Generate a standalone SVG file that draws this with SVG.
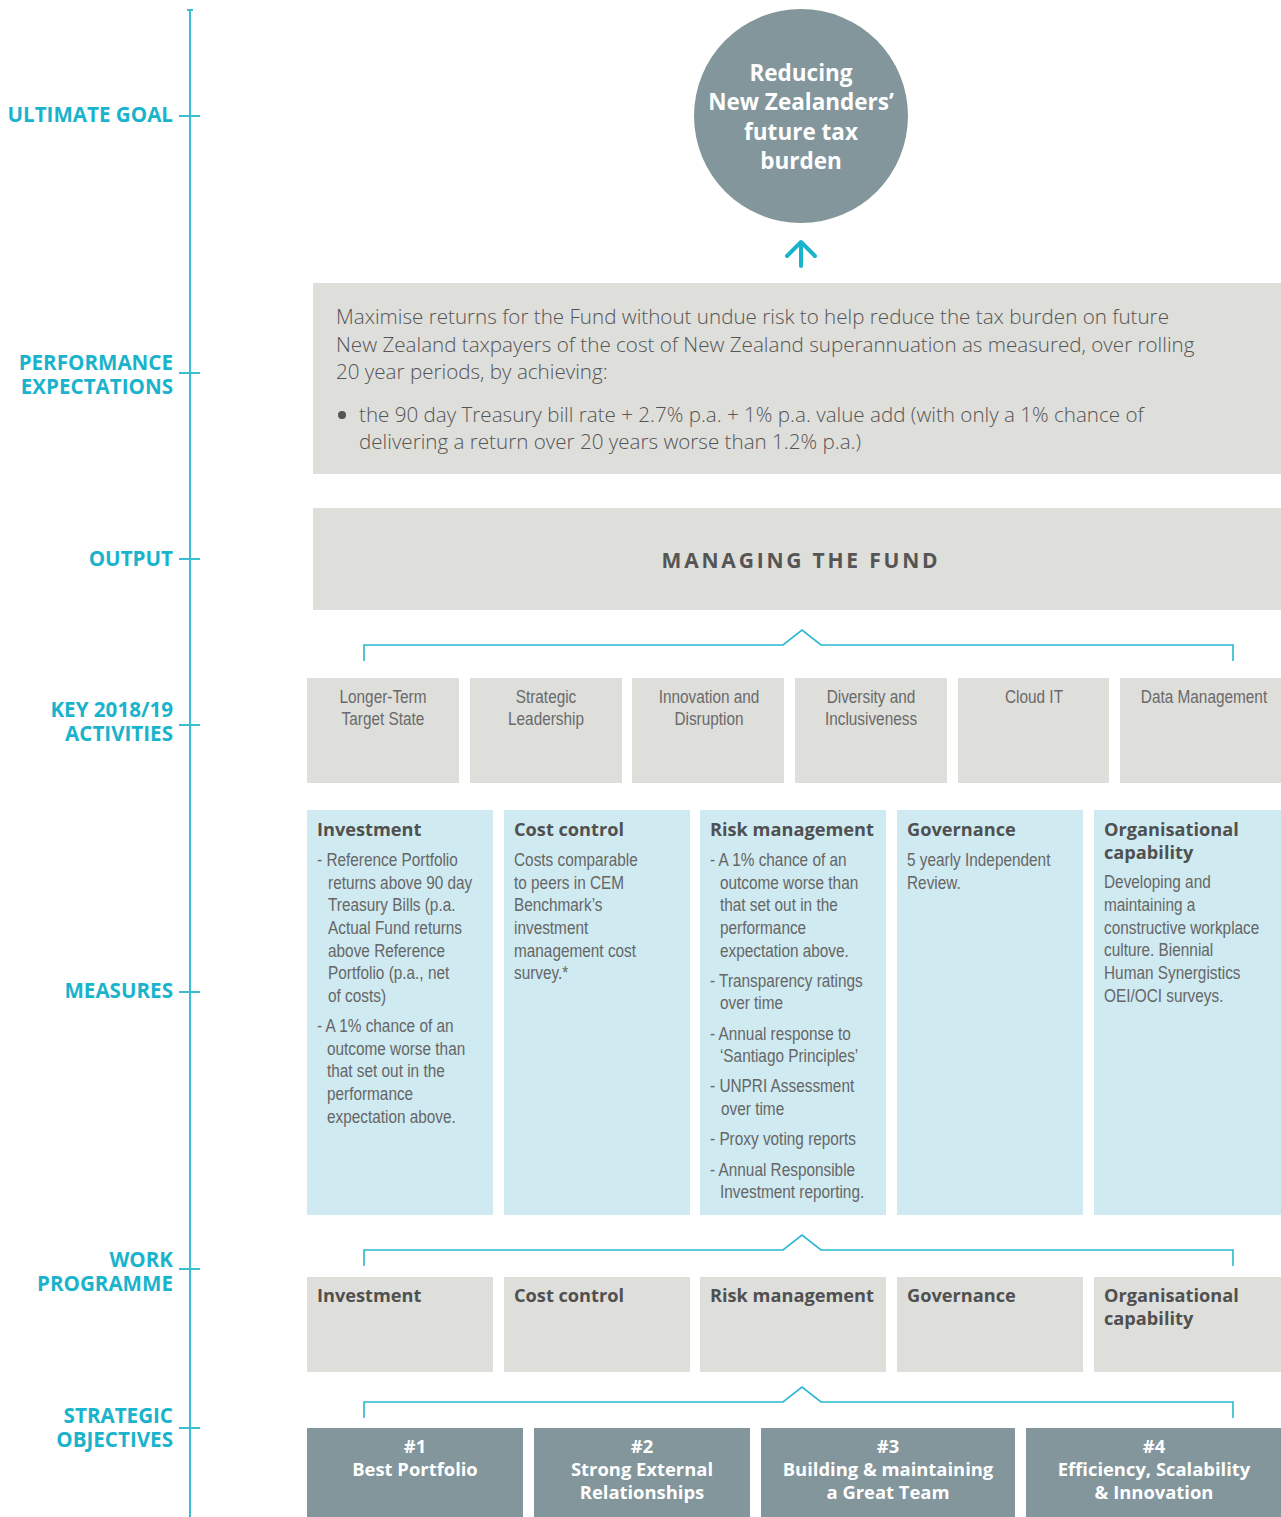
<svg xmlns="http://www.w3.org/2000/svg" width="1281" height="1517" viewBox="0 0 1281 1517">
<style>
.lbl{font-family:"Open Sans","Liberation Sans",sans-serif;font-weight:700;font-size:20.6px;fill:#1ab3cc;text-anchor:end}
.grey{fill:#dededb}
.blue{fill:#cfeaf1}
.slate{fill:#82969c}
.ttl{font-family:"Open Sans","Liberation Sans",sans-serif;font-weight:700;font-size:18.2px;fill:#505050}
.body{font-family:"Liberation Sans",Arial,sans-serif;font-size:18.5px;fill:#666}
.act{font-family:"Liberation Sans",Arial,sans-serif;font-size:18.5px;fill:#6a6a6a;text-anchor:middle}
.perf{font-family:"Open Sans","Liberation Sans",sans-serif;font-size:20.6px;font-weight:300;fill:#555}
.wt{font-family:"Open Sans","Liberation Sans",sans-serif;font-weight:700;font-size:18.4px;fill:#fff;text-anchor:middle}
.big{font-size:22.5px}
.ax{stroke:#3bbdd4;stroke-width:2;fill:none}
.br{stroke:#29b8cf;stroke-width:1.6;fill:none}
</style>

<g id="axis">
<line class="ax" x1="190" y1="9" x2="190" y2="1517"/>
<line class="ax" x1="187" y1="10" x2="193" y2="10"/>
<line class="ax" x1="179" y1="116" x2="200" y2="116"/>
<line class="ax" x1="179" y1="373" x2="200" y2="373"/>
<line class="ax" x1="179" y1="559" x2="200" y2="559"/>
<line class="ax" x1="179" y1="725" x2="200" y2="725"/>
<line class="ax" x1="179" y1="992" x2="200" y2="992"/>
<line class="ax" x1="179" y1="1269" x2="200" y2="1269"/>
<line class="ax" x1="179" y1="1428" x2="200" y2="1428"/>
<text class="lbl" x="173" y="122">ULTIMATE GOAL</text>
<text class="lbl" x="173" y="370">PERFORMANCE</text>
<text class="lbl" x="173" y="394">EXPECTATIONS</text>
<text class="lbl" x="173" y="566">OUTPUT</text>
<text class="lbl" x="173" y="717">KEY 2018/19</text>
<text class="lbl" x="173" y="741">ACTIVITIES</text>
<text class="lbl" x="173" y="998">MEASURES</text>
<text class="lbl" x="173" y="1267">WORK</text>
<text class="lbl" x="173" y="1291">PROGRAMME</text>
<text class="lbl" x="173" y="1423">STRATEGIC</text>
<text class="lbl" x="173" y="1447">OBJECTIVES</text>
</g>

<g id="goal">
<circle class="slate" cx="801" cy="116" r="107"/>
<text class="wt big" x="801" y="81">Reducing</text>
<text class="wt big" x="801" y="110">New Zealanders’</text>
<text class="wt big" x="801" y="140">future tax</text>
<text class="wt big" x="801" y="169">burden</text>
</g>

<g id="performance">
<rect class="grey" x="313" y="283" width="968" height="191"/>
<text class="perf" x="336" y="324">Maximise returns for the Fund without undue risk to help reduce the tax burden on future</text>
<text class="perf" x="336" y="352">New Zealand taxpayers of the cost of New Zealand superannuation as measured, over rolling</text>
<text class="perf" x="336" y="379">20 year periods, by achieving:</text>
<circle cx="342" cy="415" r="4" fill="#555"/>
<text class="perf" x="359" y="422">the 90 day Treasury bill rate + 2.7% p.a. + 1% p.a. value add (with only a 1% chance of</text>
<text class="perf" x="359" y="449">delivering a return over 20 years worse than 1.2% p.a.)</text>
</g>

<g id="output">
<rect class="grey" x="313" y="508" width="968" height="102"/>
<text x="801" y="568" text-anchor="middle" font-family="'Open Sans','Liberation Sans',sans-serif" font-weight="700" font-size="21" letter-spacing="2.8" fill="#555">MANAGING THE FUND</text>
</g>

<g id="connectors">
<path class="br" d="M364 661 V645 H783 L802 630 L821 645 H1233 V661"/>
<path class="br" d="M364 1266 V1250 H783 L802 1235 L821 1250 H1233 V1266"/>
<path class="br" d="M364 1418 V1402 H783 L802 1387 L821 1402 H1233 V1418"/>
<path d="M801 266 V242 M787 256 L801 242 L815 256" stroke="#1ab3cc" stroke-width="4" stroke-linecap="round" stroke-linejoin="round" fill="none"/>
</g>

<g id="activity-1"><rect class="grey" x="307" y="678" width="152" height="105"/><g transform="translate(383,0) scale(0.83,1)"><text class="act" x="0" y="703">Longer-Term</text><text class="act" x="0" y="725">Target State</text></g></g>
<g id="activity-2"><rect class="grey" x="470" y="678" width="152" height="105"/><g transform="translate(546,0) scale(0.83,1)"><text class="act" x="0" y="703">Strategic</text><text class="act" x="0" y="725">Leadership</text></g></g>
<g id="activity-3"><rect class="grey" x="632" y="678" width="152" height="105"/><g transform="translate(709,0) scale(0.83,1)"><text class="act" x="0" y="703">Innovation and</text><text class="act" x="0" y="725">Disruption</text></g></g>
<g id="activity-4"><rect class="grey" x="795" y="678" width="152" height="105"/><g transform="translate(871,0) scale(0.83,1)"><text class="act" x="0" y="703">Diversity and</text><text class="act" x="0" y="725">Inclusiveness</text></g></g>
<g id="activity-5"><rect class="grey" x="958" y="678" width="151" height="105"/><g transform="translate(1034,0) scale(0.83,1)"><text class="act" x="0" y="703">Cloud IT</text></g></g>
<g id="activity-6"><rect class="grey" x="1120" y="678" width="161" height="105"/><g transform="translate(1204,0) scale(0.83,1)"><text class="act" x="0" y="703">Data Management</text></g></g>

<g id="measure-investment">
<rect class="blue" x="307" y="810" width="186" height="405"/>
<text class="ttl" x="317" y="836">Investment</text>
<g transform="translate(317,0) scale(0.83,1)">
<text class="body" x="0" y="866">- Reference Portfolio</text>
<text class="body" x="13.3" y="889">returns above 90 day</text>
<text class="body" x="13.3" y="911">Treasury Bills (p.a.</text>
<text class="body" x="13.3" y="934">Actual Fund returns</text>
<text class="body" x="13.3" y="957">above Reference</text>
<text class="body" x="13.3" y="979">Portfolio (p.a., net</text>
<text class="body" x="13.3" y="1002">of costs)</text>
<text class="body" x="0" y="1032">- A 1% chance of an</text>
<text class="body" x="12" y="1055">outcome worse than</text>
<text class="body" x="12" y="1077">that set out in the</text>
<text class="body" x="12" y="1100">performance</text>
<text class="body" x="12" y="1123">expectation above.</text>
</g>
</g>

<g id="measure-cost">
<rect class="blue" x="504" y="810" width="186" height="405"/>
<text class="ttl" x="514" y="836">Cost control</text>
<g transform="translate(514,0) scale(0.83,1)">
<text class="body" x="0" y="866">Costs comparable</text>
<text class="body" x="0" y="889">to peers in CEM</text>
<text class="body" x="0" y="911">Benchmark’s</text>
<text class="body" x="0" y="934">investment</text>
<text class="body" x="0" y="957">management cost</text>
<text class="body" x="0" y="979">survey.*</text>
</g>
</g>

<g id="measure-risk">
<rect class="blue" x="700" y="810" width="186" height="405"/>
<text class="ttl" x="710" y="836">Risk management</text>
<g transform="translate(710,0) scale(0.83,1)">
<text class="body" x="0" y="866">- A 1% chance of an</text>
<text class="body" x="12" y="889">outcome worse than</text>
<text class="body" x="12" y="911">that set out in the</text>
<text class="body" x="12" y="934">performance</text>
<text class="body" x="12" y="957">expectation above.</text>
<text class="body" x="0" y="987">- Transparency ratings</text>
<text class="body" x="12" y="1009">over time</text>
<text class="body" x="0" y="1040">- Annual response to</text>
<text class="body" x="12" y="1062">‘Santiago Principles’</text>
<text class="body" x="0" y="1092">- UNPRI Assessment</text>
<text class="body" x="13.3" y="1115">over time</text>
<text class="body" x="0" y="1145">- Proxy voting reports</text>
<text class="body" x="0" y="1176">- Annual Responsible</text>
<text class="body" x="12" y="1198">Investment reporting.</text>
</g>
</g>

<g id="measure-governance">
<rect class="blue" x="897" y="810" width="186" height="405"/>
<text class="ttl" x="907" y="836">Governance</text>
<g transform="translate(907,0) scale(0.83,1)">
<text class="body" x="0" y="866">5 yearly Independent</text>
<text class="body" x="0" y="889">Review.</text>
</g>
</g>

<g id="measure-organisational">
<rect class="blue" x="1094" y="810" width="187" height="405"/>
<text class="ttl" x="1104" y="836">Organisational</text>
<text class="ttl" x="1104" y="859">capability</text>
<g transform="translate(1104,0) scale(0.83,1)">
<text class="body" x="0" y="888">Developing and</text>
<text class="body" x="0" y="911">maintaining a</text>
<text class="body" x="0" y="934">constructive workplace</text>
<text class="body" x="0" y="956">culture. Biennial</text>
<text class="body" x="0" y="979">Human Synergistics</text>
<text class="body" x="0" y="1002">OEI/OCI surveys.</text>
</g>
</g>

<g id="wp-investment"><rect class="grey" x="307" y="1277" width="186" height="95"/><text class="ttl" x="317" y="1302">Investment</text></g>
<g id="wp-cost"><rect class="grey" x="504" y="1277" width="186" height="95"/><text class="ttl" x="514" y="1302">Cost control</text></g>
<g id="wp-risk"><rect class="grey" x="700" y="1277" width="186" height="95"/><text class="ttl" x="710" y="1302">Risk management</text></g>
<g id="wp-governance"><rect class="grey" x="897" y="1277" width="186" height="95"/><text class="ttl" x="907" y="1302">Governance</text></g>
<g id="wp-organisational"><rect class="grey" x="1094" y="1277" width="187" height="95"/><text class="ttl" x="1104" y="1302">Organisational</text><text class="ttl" x="1104" y="1325">capability</text></g>

<g id="so-1"><rect class="slate" x="307" y="1428" width="216" height="89"/><text class="wt"><tspan x="415" y="1453">#1</tspan><tspan x="415" y="1476">Best Portfolio</tspan></text></g>
<g id="so-2"><rect class="slate" x="534" y="1428" width="216" height="89"/><text class="wt"><tspan x="642" y="1453">#2</tspan><tspan x="642" y="1476">Strong External</tspan><tspan x="642" y="1499">Relationships</tspan></text></g>
<g id="so-3"><rect class="slate" x="761" y="1428" width="254" height="89"/><text class="wt"><tspan x="888" y="1453">#3</tspan><tspan x="888" y="1476">Building &amp; maintaining</tspan><tspan x="888" y="1499">a Great Team</tspan></text></g>
<g id="so-4"><rect class="slate" x="1026" y="1428" width="255" height="89"/><text class="wt"><tspan x="1154" y="1453">#4</tspan><tspan x="1154" y="1476">Efficiency, Scalability</tspan><tspan x="1154" y="1499">&amp; Innovation</tspan></text></g>
</svg>
